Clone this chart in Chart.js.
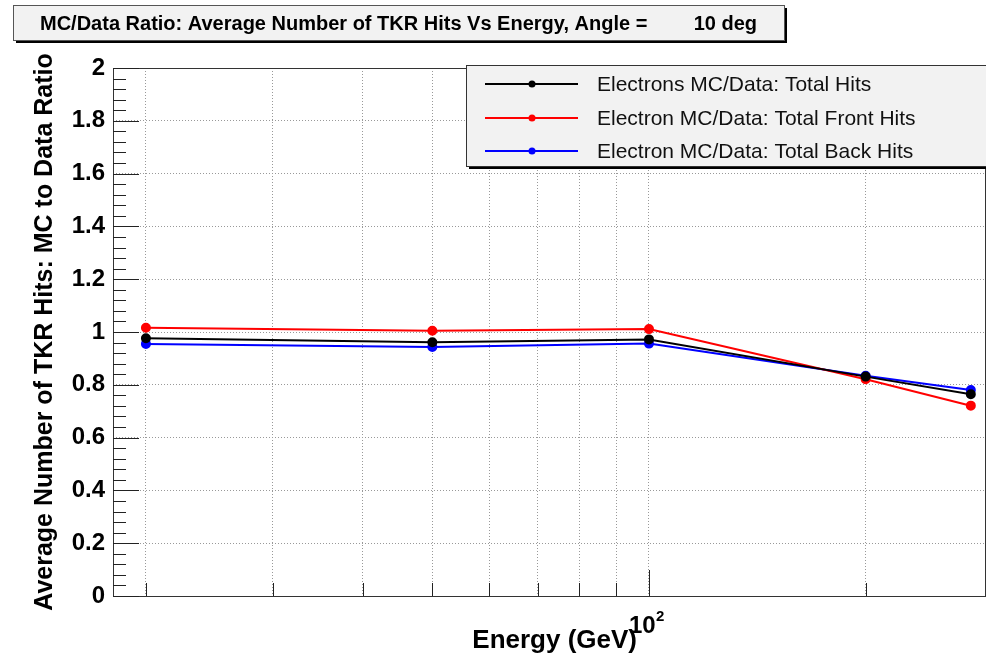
<!DOCTYPE html>
<html>
<head>
<meta charset="utf-8">
<script src="https://cdn.jsdelivr.net/npm/chart.js@4.4.1/dist/chart.umd.min.js"></script>
<style>
  html, body { margin: 0; padding: 0; background: #ffffff; }
  #wrap { position: relative; width: 986px; height: 655px; }
</style>
</head>
<body>
<div id="wrap"><canvas id="c" width="986" height="655"></canvas></div>
<script>
// ---- data ----
const energies   = [20, 50, 100, 200, 280];          // GeV
const totalHits  = [0.976, 0.961, 0.972, 0.831, 0.764];
const frontHits  = [1.016, 1.005, 1.011, 0.821, 0.721];
const backHits   = [0.955, 0.943, 0.956, 0.834, 0.780];
const seriesLabels = [
  'Electrons MC/Data: Total Hits',
  'Electron MC/Data: Total Front Hits',
  'Electron MC/Data: Total Back Hits'
];
const xGridValues = [20, 30, 40, 50, 60, 70, 80, 90, 100, 200];
const xLabelValue = 100;            // shown as 10^2
const titleMain = 'MC/Data Ratio: Average Number of TKR Hits Vs Energy, Angle =';
const titleAngle = '10 deg';
const xTitle = 'Energy (GeV)';
const yTitle = 'Average Number of TKR Hits: MC to Data Ratio';

const FONT = '"Liberation Sans", Arial, sans-serif';

function pts(vals) { return energies.map((e, i) => ({ x: e, y: vals[i] })); }

const colors = ['#000000', '#ff0000', '#0000ff'];
const seriesValues = [totalHits, frontHits, backHits];

const rootPlugin = {
  id: 'rootDecor',
  afterDraw(chart) {
    const { ctx, chartArea: a, scales: { x, y } } = chart;
    ctx.save();
    // frame
    ctx.strokeStyle = '#333333';
    ctx.lineWidth = 1;
    ctx.strokeRect(Math.round(a.left) + 0.5, Math.round(a.top) + 0.5,
                   Math.round(a.right - a.left), Math.round(a.bottom - a.top));
    // y ticks (inside)
    ctx.strokeStyle = '#222222';
    for (let i = 0; i <= 50; i++) {
      const py = Math.round(y.getPixelForValue(i * 0.04)) + 0.5;
      const len = (i % 5 === 0) ? 26 : 13;
      ctx.beginPath(); ctx.moveTo(a.left, py); ctx.lineTo(a.left + len, py); ctx.stroke();
    }
    // x ticks (inside)
    xGridValues.forEach(v => {
      const px = Math.round(x.getPixelForValue(v)) + 0.5;
      const len = (v === xLabelValue) ? 26 : 13;
      ctx.beginPath(); ctx.moveTo(px, a.bottom); ctx.lineTo(px, a.bottom - len); ctx.stroke();
    });
    // x label 10^2
    ctx.fillStyle = '#000';
    const lx = x.getPixelForValue(xLabelValue);
    ctx.font = 'bold 24px ' + FONT;
    ctx.textBaseline = 'alphabetic';
    ctx.textAlign = 'left';
    ctx.fillText('10', lx - 20, 633);
    ctx.font = 'bold 15px ' + FONT;
    ctx.fillText('2', lx + 7, 621);
    // x title
    ctx.font = 'bold 26px ' + FONT;
    ctx.textAlign = 'right';
    ctx.fillText(xTitle, 637, 648);

    // legend box
    const lgL = 466, lgT = 65, lgR = 988, lgB = 166;
    ctx.fillStyle = '#000';
    ctx.fillRect(lgL + 3, lgB, lgR - lgL, 3);
    ctx.fillStyle = '#f2f2f2';
    ctx.fillRect(lgL, lgT, lgR - lgL, lgB - lgT);
    ctx.strokeStyle = '#333';
    ctx.strokeRect(lgL + 0.5, lgT + 0.5, lgR - lgL, lgB - lgT);
    const rowsY = [84, 118, 151];
    chart.data.datasets.forEach((ds, i) => {
      const ry = rowsY[i];
      ctx.strokeStyle = ds.borderColor;
      ctx.lineWidth = 2;
      ctx.beginPath(); ctx.moveTo(485, ry); ctx.lineTo(578, ry); ctx.stroke();
      ctx.fillStyle = ds.borderColor;
      ctx.beginPath(); ctx.arc(532, ry, 3.5, 0, Math.PI * 2); ctx.fill();
      ctx.fillStyle = '#111';
      ctx.font = '21px ' + FONT;
      ctx.textAlign = 'left';
      ctx.textBaseline = 'middle';
      ctx.fillText(ds.label, 597, ry + 1);
    });

    // title box
    const tL = 13, tT = 5, tR = 784, tB = 40;
    ctx.fillStyle = '#000';
    ctx.fillRect(tL + 3, tB, tR - tL, 3);
    ctx.fillRect(tR, tT + 3, 3, tB - tT);
    ctx.fillStyle = '#f2f2f2';
    ctx.fillRect(tL, tT, tR - tL, tB - tT);
    ctx.strokeStyle = '#555';
    ctx.lineWidth = 1;
    ctx.strokeRect(tL + 0.5, tT + 0.5, tR - tL, tB - tT);
    ctx.fillStyle = '#000';
    ctx.font = 'bold 20px ' + FONT;
    ctx.textBaseline = 'alphabetic';
    ctx.textAlign = 'left';
    ctx.fillText(titleMain, 40, 30);
    ctx.textAlign = 'right';
    ctx.fillText(titleAngle, 757, 30);
    ctx.restore();
  }
};

new Chart(document.getElementById('c'), {
  type: 'line',
  data: {
    datasets: seriesValues.map((vals, i) => ({
      label: seriesLabels[i],
      data: pts(vals),
      borderColor: colors[i],
      backgroundColor: colors[i],
      borderWidth: 2,
      pointRadius: 4,
      pointHoverRadius: 4,
      tension: 0,
      fill: false
    }))
  },
  options: {
    responsive: false,
    animation: false,
    devicePixelRatio: 1,
    layout: { autoPadding: false, padding: { left: 0, top: 68, right: 1, bottom: 0 } },
    plugins: { legend: { display: false }, title: { display: false }, tooltip: { enabled: false } },
    scales: {
      x: {
        type: 'logarithmic',
        min: 18, max: 293,
        afterBuildTicks: s => { s.ticks = xGridValues.map(v => ({ value: v })); },
        afterFit: s => { s.height = 59; },
        ticks: { display: false },
        grid: { color: '#999999', lineWidth: 1, drawTicks: false },
        border: { display: false, dash: [1, 2] }
      },
      y: {
        min: 0, max: 2,
        afterFit: s => { s.width = 113; },
        ticks: {
          stepSize: 0.2,
          color: '#000',
          padding: 8,
          font: { family: FONT, size: 24, weight: 'bold' },
          callback: v => String(Math.round(v * 10) / 10)
        },
        grid: { color: '#999999', lineWidth: 1, drawTicks: false },
        border: { display: false, dash: [1, 2] },
        title: {
          display: true,
          text: yTitle,
          color: '#000',
          font: { family: FONT, size: 25, weight: 'bold' },
          padding: { top: 30, bottom: 0 }
        }
      }
    }
  },
  plugins: [rootPlugin]
});
</script>
</body>
</html>
